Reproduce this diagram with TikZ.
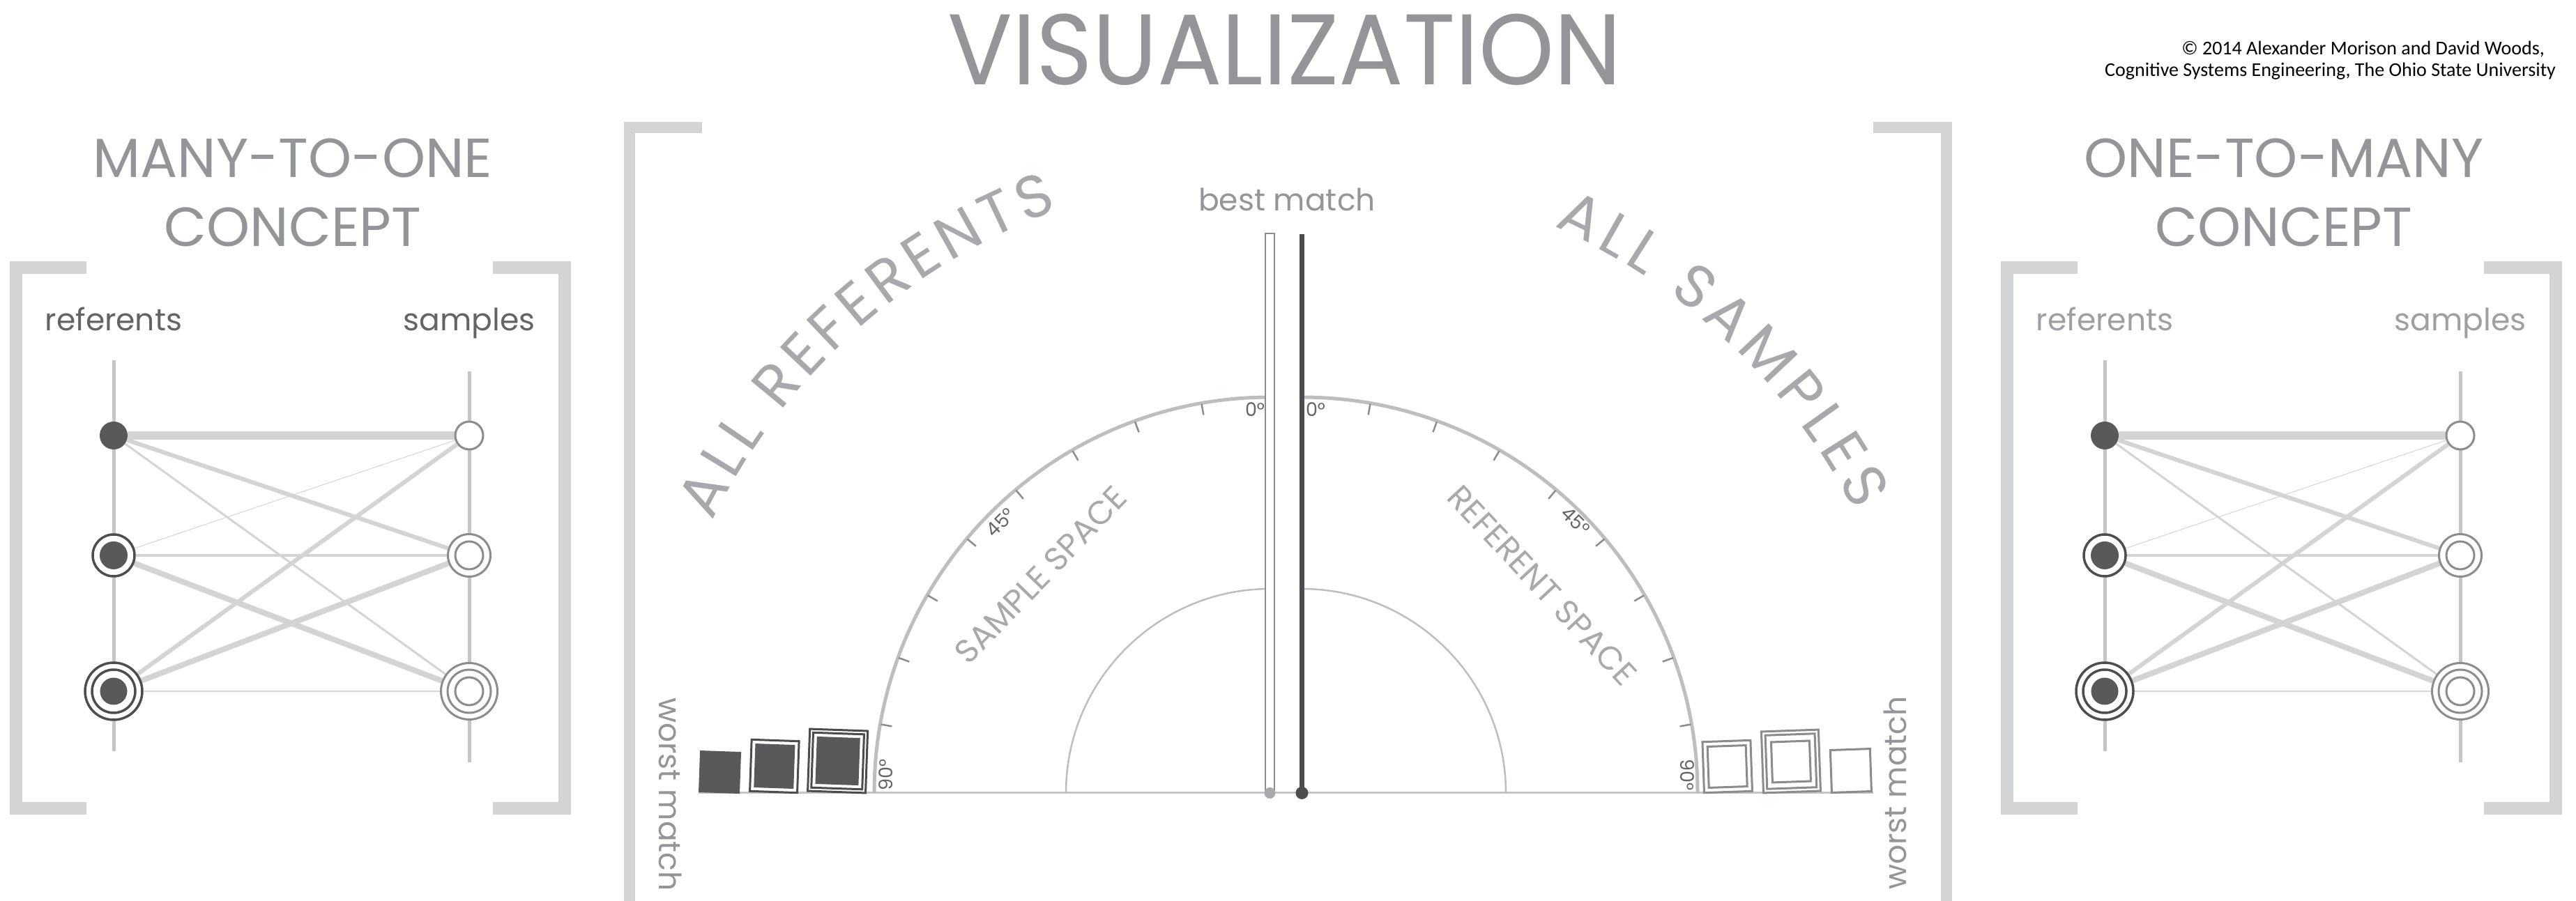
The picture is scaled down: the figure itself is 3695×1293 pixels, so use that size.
\documentclass[tikz,border=0pt]{standalone}
\usepackage{fontspec}
\setmainfont{Poppins}
\newfontfamily\creditfont{Carlito}
\usetikzlibrary{backgrounds,decorations.text}

\definecolor{bracketgray}{HTML}{D1D3D4}
\definecolor{textgray}{HTML}{939598}
\definecolor{softgray}{HTML}{A7A9AC}
\definecolor{edgegray}{HTML}{D3D4D6}
\definecolor{axisgray}{HTML}{C4C5C7}
\definecolor{arcgray}{HTML}{BCBEC0}
\definecolor{darkfill}{HTML}{58595B}
\definecolor{ringdark}{HTML}{4D4D4F}
\definecolor{smpgray}{HTML}{8A8C8E}
\definecolor{labdark}{HTML}{636466}
\definecolor{lablight}{HTML}{9D9FA2}

\newcommand\allfont{\fontsize{86}{86}\selectfont}

\tikzset{
  bracket/.style={draw=bracketgray, line width=18pt, line join=miter},
  headline/.style={font=\fontsize{79}{79}\selectfont, text=textgray, anchor=base, inner sep=0pt},
  colname/.style={font=\fontsize{44}{44}\selectfont, anchor=base, inner sep=0pt},
  matchtext/.style={font=\fontsize{44}{44}\selectfont, text=textgray, inner sep=0pt},
  spacetext/.style={font=\fontsize{47}{47}\selectfont, text=softgray, inner sep=0pt},
  degtext/.style={font=\fontsize{27}{27}\selectfont, text=labdark, inner sep=0pt},
  axis/.style={draw=axisgray, line width=5pt},
  link/.style={draw=edgegray, line width=#1},
  ref1/.style={circle, fill=darkfill, minimum size=40pt, inner sep=0pt},
  ref2/.style={circle, draw=ringdark, line width=3.5pt, fill=white, minimum size=60pt, inner sep=0pt,
    path picture={\fill[darkfill] (path picture bounding box.center) circle (20pt);}},
  ref3/.style={circle, draw=ringdark, line width=3.5pt, fill=white, minimum size=82pt, inner sep=0pt,
    path picture={\draw[ringdark, line width=3.5pt] (path picture bounding box.center) circle (31pt);
                  \fill[darkfill] (path picture bounding box.center) circle (19.5pt);}},
  smp1/.style={circle, draw=smpgray, line width=3pt, fill=white, minimum size=40pt, inner sep=0pt},
  smp2/.style={circle, draw=smpgray, line width=3pt, fill=white, minimum size=61pt, inner sep=0pt,
    path picture={\draw[smpgray, line width=3pt] (path picture bounding box.center) circle (20pt);}},
  smp3/.style={circle, draw=smpgray, line width=3pt, fill=white, minimum size=81pt, inner sep=0pt,
    path picture={\draw[smpgray, line width=3pt] (path picture bounding box.center) circle (31pt);
                  \draw[smpgray, line width=3pt] (path picture bounding box.center) circle (20pt);}},
  bigarc/.style={draw=arcgray, line width=5pt},
  smallarc/.style={draw=arcgray, line width=2.5pt},
  tickmark/.style={draw=smpgray, line width=2.5pt},
  baseaxis/.style={draw=axisgray, line width=3pt},
  sqline/.style={draw=ringdark, line width=3pt},
  smpline/.style={draw=smpgray, line width=3pt},
  alltext/.style={decorate, decoration={text along path, text align=fit to path,
    text={|\allfont\color{softgray}|#1}}}
}

\begin{document}
\begin{tikzpicture}[x=1pt, y=1pt]
  \useasboundingbox (0,0) rectangle (3695,1293);

  % title and credit
  \node[font=\fontsize{144}{144}\selectfont, text=textgray, anchor=base, inner sep=0pt] (title) at (1843,1171) {\scalebox{0.955}[1]{VISUALIZATION}};
  \node[font=\creditfont\fontsize{28}{28}\selectfont, anchor=base east, inner sep=0pt] (credit1) at (3650,1214) {© 2014 Alexander Morison and David Woods,};
  \node[font=\creditfont\fontsize{28}{28}\selectfont, anchor=base east, inner sep=0pt] (credit2) at (3666,1183) {Cognitive Systems Engineering, The Ohio State University};

  % the two concept panels
  \foreach \dx/\head/\lab in {0/MANY-TO-ONE/labdark, 2856/ONE-TO-MANY/lablight} {
    \begin{scope}[xshift=\dx pt]
      \node[headline] (head) at (420,1038) {\head};
      \node[headline] (concept) at (420,939) {CONCEPT};
      \draw[bracket] (124,909) -- (23,909) -- (23,133) -- (124,133);
      \draw[bracket] (707,909) -- (810,909) -- (810,133) -- (707,133);
      \node[colname, text=\lab] (reflab) at (163,818) {referents};
      \node[colname, text=\lab] (smplab) at (673,818) {samples};
      \coordinate (rtop) at (163,776);
      \coordinate (rbot) at (163,215);
      \coordinate (stop) at (673,760);
      \coordinate (sbot) at (673,199);
      \node[ref1] (r1) at (163,668) {};
      \node[ref2] (r2) at (163,496) {};
      \node[ref3] (r3) at (163,301) {};
      \node[smp1] (s1) at (673,668) {};
      \node[smp2] (s2) at (673,496) {};
      \node[smp3] (s3) at (673,301) {};
      \begin{scope}[on background layer]
        \draw[axis] (rtop) -- (rbot);
        \draw[axis] (stop) -- (sbot);
        \foreach \a/\b/\w in {1/1/12, 1/2/6, 1/3/3, 2/1/1, 2/2/4, 2/3/8, 3/1/6, 3/2/8, 3/3/2}
          \draw[link=\w pt] (r\a) -- (s\b);
      \end{scope}
    \end{scope}
  }

  % visualization panel
  \coordinate (lc) at (1822,155);
  \coordinate (rc) at (1867,155);
  \draw[bracket, line width=16pt] (1007,1110) -- (903,1110) -- (903,0);
  \draw[bracket, line width=16pt] (2687,1110) -- (2792,1110) -- (2792,0);

  \coordinate (bl) at (1002,155);
  \coordinate (br) at (2687,155);
  \draw[baseaxis] (bl) -- (br);

  \draw[bigarc] ([shift={(90:568)}]lc) arc[start angle=90, end angle=180, radius=568];
  \draw[bigarc] ([shift={(0:568)}]rc) arc[start angle=0, end angle=90, radius=568];
  \draw[smallarc] ([shift={(90:293)}]lc) arc[start angle=90, end angle=180, radius=293];
  \draw[smallarc] ([shift={(0:293)}]rc) arc[start angle=0, end angle=90, radius=293];
  \foreach \a in {10,20,...,80} {
    \draw[tickmark] ([shift={({90+\a}:567)}]lc) -- ([shift={({90+\a}:551)}]lc);
    \draw[tickmark] ([shift={({90-\a}:567)}]rc) -- ([shift={({90-\a}:551)}]rc);
  }

  \node[degtext] (l0) at (1800,705) {0°};
  \node[degtext] (r0) at (1887,705) {0°};
  \node[degtext, rotate=45] (l45) at (1435,543) {45°};
  \node[degtext, rotate=-45] (r45) at (2260,545) {45°};
  \node[degtext, rotate=90] (l90) at (1271,181) {90°};
  \node[degtext, rotate=-90] (r90) at (2420,181) {90°};

  \node[spacetext, rotate=46] (sspace) at (1493,468) {SAMPLE SPACE};
  \node[spacetext, rotate=-47] (rspace) at (2212,453) {REFERENT SPACE};

  \path[alltext={ALL REFERENTS}] ([shift={(154:890)}]lc) arc[start angle=154, end angle=110, radius=890];
  \path[alltext={ALL SAMPLES}] ([shift={(66:890)}]rc) arc[start angle=66, end angle=27, radius=890];

  % match bars
  \node[draw=smpgray, line width=2pt, fill=white, minimum width=13pt, minimum height=802pt,
        inner sep=0pt, anchor=south] (lbar) at (1821.5,155) {};
  \node[fill=ringdark, minimum width=7pt, minimum height=802pt, inner sep=0pt, anchor=south] (dbar) at (1867.5,155) {};
  \fill[softgray] (lbar.south) circle (8);
  \fill[ringdark] (dbar.south) circle (9);
  \node[matchtext, anchor=base] (best) at (1846,990) {best match};
  \node[matchtext, rotate=-90] (lworst) at (962,153) {worst match};
  \node[matchtext, rotate=90] (rworst) at (2718,155) {worst match};

  % referent squares
  \begin{scope}[rotate around={-2:(1031.5,155)}]
    \fill[darkfill] (1002,155) rectangle (1061,215);
  \end{scope}
  \begin{scope}[rotate around={-2:(1109.5,155)}]
    \filldraw[sqline, fill=white] (1075.5,156.5) rectangle (1143.5,230.5);
    \fill[darkfill] (1081,162) rectangle (1138,225);
  \end{scope}
  \begin{scope}[rotate around={-2:(1200,155)}]
    \filldraw[sqline, fill=white] (1158.5,156.5) rectangle (1241.5,245.5);
    \draw[sqline] (1163.5,161.5) rectangle (1236.5,240.5);
    \fill[darkfill] (1169,167) rectangle (1231,235);
  \end{scope}

  % sample squares
  \begin{scope}[rotate around={2:(2479,155)}]
    \filldraw[smpline, fill=white] (2444.5,156.5) rectangle (2513.5,229.5);
    \draw[smpline] (2451.5,163.5) rectangle (2506.5,222.5);
  \end{scope}
  \begin{scope}[rotate around={2:(2570,155)}]
    \filldraw[smpline, fill=white] (2529.5,156.5) rectangle (2611.5,244.5);
    \draw[smpline] (2535,162) rectangle (2606,239);
    \draw[smpline] (2543,171) rectangle (2598,229);
  \end{scope}
  \begin{scope}[rotate around={2:(2656,155)}]
    \filldraw[smpline, fill=white] (2627.5,156.5) rectangle (2684.5,217.5);
  \end{scope}
\end{tikzpicture}
\end{document}
